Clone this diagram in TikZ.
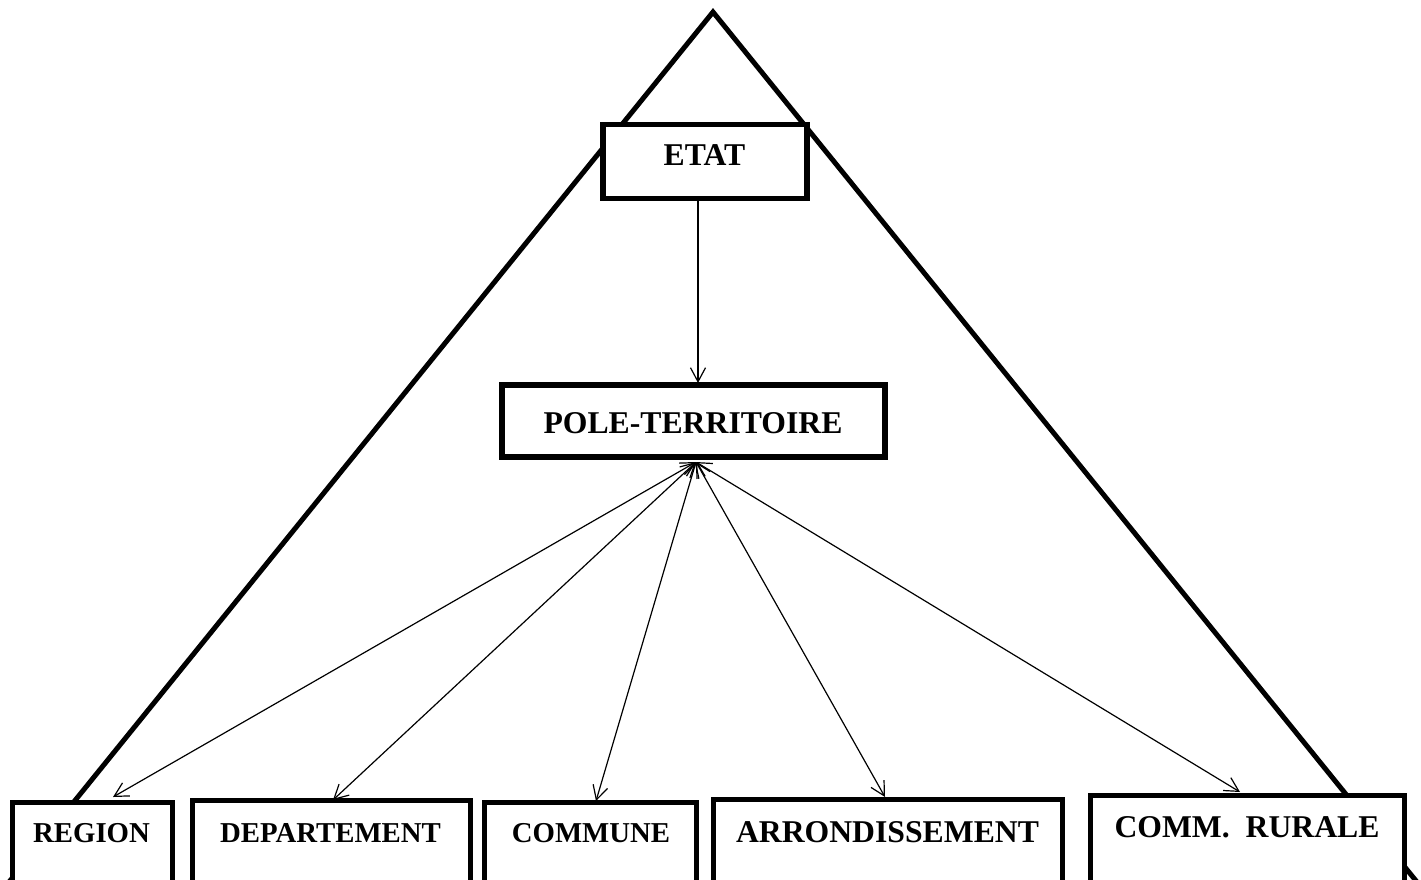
\documentclass[tikz,border=0pt]{standalone}
\usepackage{fontspec}
\setmainfont{Liberation Serif}
\usetikzlibrary{arrows.meta}
\begin{document}
\begin{tikzpicture}[x=1pt,y=-1pt,
  box/.style={draw, line width=5.5pt, fill=white, rectangle, inner sep=0pt, outer sep=0pt},
  lbl/.style={inner sep=0pt, anchor=base, font=\bfseries\fontsize{31.7}{36}\selectfont},
  lbls/.style={inner sep=0pt, anchor=base, font=\bfseries\fontsize{28.8}{34}\selectfont},
  tri/.style={line width=5pt, line join=miter},
  conn/.style={line width=1.2pt, {Straight Barb[length=14pt,width=15pt,line width=1.2pt]}-{Straight Barb[length=14pt,width=15pt,line width=1.2pt]}},
  conn1/.style={line width=1.2pt, -{Straight Barb[length=14pt,width=15pt,line width=1.2pt]}}
]
\useasboundingbox (0,0) rectangle (1421,879);
\clip (0,0) rectangle (1421,879);
\fill[white] (0,0) rectangle (1421,879);
% triangle
\coordinate (apex) at (713,12);
\coordinate (bl) at (-5.5,900);
\coordinate (br) at (1431.5,900);
\draw[tri] (bl) -- (apex) -- (br);
% boxes
\node[box, minimum width=204pt, minimum height=74pt] (etat) at (705,161.5) {};
\node[lbl] (etatt) at (704.5,165) {ETAT};
\node[box, minimum width=383pt, minimum height=72pt] (pole) at (693.5,421) {};
\node[lbl] (polet) at (693,433) {POLE-TERRITOIRE};
\node[box, anchor=north west, minimum width=160pt, minimum height=150pt] (region) at (12.5,802.5) {};
\node[lbls] (regiont) at (91.5,842) {REGION};
\node[box, anchor=north west, minimum width=278pt, minimum height=150pt] (dept) at (192.5,800.5) {};
\node[lbls] (deptt) at (330.5,842) {DEPARTEMENT};
\node[box, anchor=north west, minimum width=212pt, minimum height=150pt] (commune) at (484.5,802.5) {};
\node[lbls] (communet) at (591,842) {COMMUNE};
\node[box, anchor=north west, minimum width=349pt, minimum height=150pt] (arr) at (713.5,799.5) {};
\node[lbl] (arrt) at (887.5,842) {ARRONDISSEMENT};
\node[box, anchor=north west, minimum width=314pt, minimum height=150pt] (rurale) at (1090.5,795.5) {};
\node[lbl] (ruralet) at (1247,837) {COMM.\ \ RURALE};
% connectors
\coordinate (etatb) at (698,201);
\coordinate (polet2) at (698,383);
\draw[conn1] (etatb) -- (polet2);
\coordinate (hub) at (696,462);
\coordinate (tR) at (113,797);
\coordinate (tD) at (333,800);
\coordinate (tC) at (596,801);
\coordinate (tA) at (885,797);
\coordinate (tU) at (1240,792);
\draw[conn] (hub) -- (tR);
\draw[conn] (hub) -- (tD);
\draw[conn] (hub) -- (tC);
\draw[conn] (hub) -- (tA);
\draw[conn] (hub) -- (tU);
\end{tikzpicture}
\end{document}
